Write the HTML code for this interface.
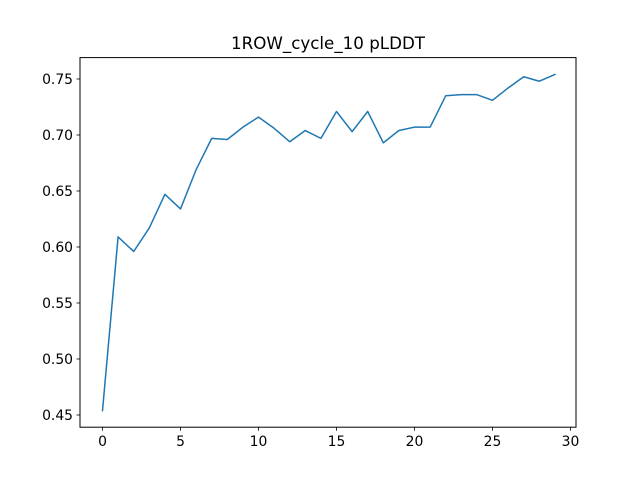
<!DOCTYPE html>
<html><head><meta charset="utf-8"><style>
html,body{margin:0;padding:0;background:#fff;}
svg{display:block;font-family:"DejaVu Sans","Liberation Sans",sans-serif;}
</style></head><body>
<svg id="chart" width="640" height="480" viewBox="0 0 640 480">
<rect x="0" y="0" width="640" height="480" fill="#fff"/>
<text x="328" y="49" font-size="16.7" text-anchor="middle">1ROW_cycle_10 pLDDT</text>
<g id="plot"></g>
<rect x="80" y="57.6" width="496" height="369.6" fill="none" stroke="#000" stroke-width="1"/>
</svg>
<script>
const xValues = [0,1,2,3,4,5,6,7,8,9,10,11,12,13,14,15,16,17,18,19,20,21,22,23,24,25,26,27,28,29];
const plddt = [0.454,0.609,0.596,0.617,0.647,0.634,0.669,0.697,0.696,0.707,0.716,0.706,0.694,0.704,0.697,0.721,0.703,0.721,0.693,0.704,0.707,0.707,0.735,0.736,0.736,0.731,0.742,0.752,0.748,0.754];
const xTicks = [0,5,10,15,20,25,30];
const yTicks = [0.45,0.50,0.55,0.60,0.65,0.70,0.75];
const yTickLabels = ["0.45","0.50","0.55","0.60","0.65","0.70","0.75"];

const NS = "http://www.w3.org/2000/svg";
const g = document.getElementById("plot");
function xs(v){ return 102.5 + v * 15.6; }
function ys(v){ return 415 - (v - 0.45) * 1120; }
function mk(tag, attrs){ const e=document.createElementNS(NS,tag); for(const k in attrs) e.setAttribute(k,attrs[k]); g.appendChild(e); return e; }

xTicks.forEach(t=>{
  const l = mk("line",{x1:xs(t),x2:xs(t),y1:427.2,y2:430.7,stroke:"#000","stroke-width":0.8});
  
  
  const tx = mk("text",{x:xs(t),y:446,"font-size":13.9,"text-anchor":"middle"});
  tx.textContent = String(t);
  
  
});
yTicks.forEach((t,i)=>{
  const l = mk("line",{x1:76.5,x2:80,y1:ys(t),y2:ys(t),stroke:"#000","stroke-width":0.8});
  
  
  const tx = mk("text",{x:73,y:ys(t)+5,"font-size":13.9,"text-anchor":"end"});
  tx.textContent = yTickLabels[i];
  
  
});
const pts = xValues.map((x,i)=>xs(x).toFixed(2)+","+ys(plddt[i]).toFixed(2)).join(" ");
const line = mk("polyline",{points:pts,fill:"none",stroke:"#1f77b4","stroke-width":1.5,"stroke-linejoin":"round","stroke-linecap":"square"});


</script>
</body></html>
